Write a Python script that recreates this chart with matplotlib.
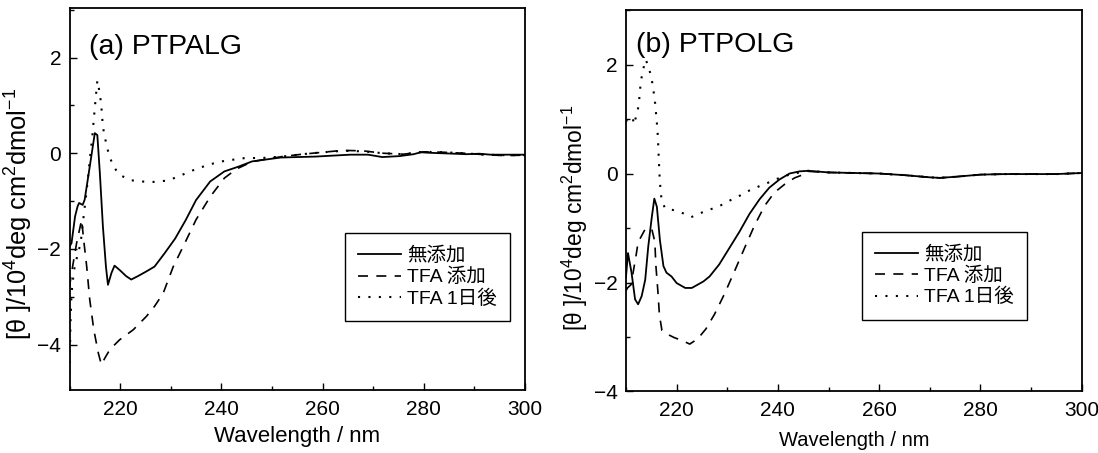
import matplotlib
matplotlib.use("Agg")
import matplotlib.pyplot as plt
from matplotlib.ticker import MultipleLocator

plt.rcParams['font.family'] = ['Liberation Sans', 'Noto Sans CJK JP', 'DejaVu Sans']
plt.rcParams['mathtext.default'] = 'regular'

labels = ["無添加", "TFA 添加", "TFA 1日後"]

# (a) PTPALG
a_solid_x = [210.0, 210.4, 211.1, 211.6, 211.9, 212.6, 213.0, 214.0, 215.0, 215.5, 216.0, 216.6,
             217.2, 217.6, 218.3, 218.9, 219.9, 221.2, 222.2, 223.5, 225.2, 226.8, 228.8, 230.9,
             233.0, 235.0, 237.8, 240.6, 243.4, 246.1, 248.9, 251.7, 255.0, 258.6, 262.0, 265.5,
             269.0, 271.8, 275.2, 278.0, 279.4, 281.0, 283.5, 286.0, 288.4, 291.0, 293.2, 296.0, 300.0]
a_solid_y = [-1.95, -1.88, -1.32, -1.11, -1.04, -1.08, -0.97, -0.28, 0.42, 0.38, -0.42, -1.53,
             -2.37, -2.75, -2.50, -2.35, -2.44, -2.57, -2.64, -2.57, -2.47, -2.37, -2.09, -1.78,
             -1.39, -0.98, -0.59, -0.38, -0.28, -0.17, -0.13, -0.09, -0.08, -0.07, -0.05, -0.03,
             -0.03, -0.08, -0.06, -0.02, 0.02, 0.01, 0.0, -0.01, -0.02, -0.01, -0.03, -0.03, -0.03]

a_dash_x = [210.0, 210.4, 211.4, 212.4, 212.8, 213.4, 214.0, 214.8, 215.7, 216.3, 217.0, 218.0,
            219.9, 222.6, 225.2, 226.8, 228.5, 230.5, 232.6, 235.0, 237.8, 240.6, 243.0, 246.0,
            248.0, 252.0, 256.0, 260.0, 264.0, 268.0, 272.0, 276.0, 280.0, 284.0, 288.0, 292.0,
            296.0, 300.0]
a_dash_y = [-2.8, -2.50, -1.88, -1.39, -1.81, -2.37, -3.06, -3.69, -4.18, -4.42, -4.28, -4.10,
            -3.90, -3.69, -3.41, -3.20, -2.93, -2.37, -1.92, -1.39, -0.91, -0.52, -0.33, -0.18,
            -0.14, -0.07, -0.02, 0.02, 0.06, 0.05, 0.0, -0.02, 0.03, 0.02, 0.0, -0.03,
            -0.05, -0.04]

a_dot_x = [210.0, 210.2, 210.4, 210.9, 211.5, 212.2, 212.7, 213.4, 214.0, 214.5, 214.9, 215.2,
           215.5, 216.0, 216.3, 216.6, 217.1, 217.8, 218.7, 219.9, 221.9, 223.9, 226.5, 229.5,
           232.3, 235.0, 237.8, 240.6, 244.7, 248.0, 252.0, 256.0, 260.0, 264.0, 268.0, 272.0,
           276.0, 280.0, 284.0, 288.0, 292.0, 296.0, 300.0]
a_dot_y = [-4.6, -3.55, -2.92, -2.44, -2.16, -1.88, -1.40, -0.77, -0.14, 0.34, 0.83, 1.18,
           1.52, 1.25, 0.97, 0.55, 0.28, -0.04, -0.28, -0.45, -0.56, -0.59, -0.60, -0.57,
           -0.45, -0.33, -0.23, -0.16, -0.10, -0.10, -0.07, -0.02, 0.02, 0.05, 0.04, 0.0,
           -0.02, 0.03, 0.02, 0.0, -0.03, -0.04, -0.04]

# (b) PTPOLG
b_solid_x = [210.0, 210.4, 211.1, 211.8, 212.4, 213.1, 213.8, 214.4, 215.1, 215.6, 216.1, 216.7,
             217.4, 218.0, 219.0, 220.0, 221.7, 223.0, 225.3, 226.5, 228.4, 230.4, 232.4, 234.4,
             236.4, 238.3, 240.3, 242.3, 244.3, 246.0, 250.0, 255.0, 260.0, 265.0, 270.0, 272.0,
             275.0, 280.0, 285.0, 290.0, 295.0, 300.0]
b_solid_y = [-1.9, -1.46, -1.82, -2.31, -2.40, -2.25, -1.95, -1.34, -0.80, -0.46, -0.61, -1.22,
             -1.70, -1.82, -1.89, -2.01, -2.10, -2.10, -1.98, -1.89, -1.67, -1.37, -1.07, -0.74,
             -0.47, -0.26, -0.11, 0.0, 0.04, 0.05, 0.02, 0.01, 0.0, -0.03, -0.07, -0.08,
             -0.06, -0.02, -0.01, -0.01, -0.01, 0.01]

b_dash_x = [210.0, 210.3, 211.0, 212.0, 212.4, 213.8, 214.5, 215.1, 215.7, 215.9, 216.3, 216.6,
            217.1, 218.2, 219.5, 221.2, 222.6, 224.2, 225.8, 227.5, 229.4, 231.4, 233.4, 235.4,
            237.4, 239.3, 241.3, 243.3, 245.0, 246.0, 250.0, 255.0, 260.0, 265.0, 270.0, 272.0,
            275.0, 280.0, 285.0, 290.0, 295.0, 300.0]
b_dash_y = [-2.15, -2.1, -2.04, -1.5, -1.26, -1.02, -1.0, -1.02, -1.25, -1.68, -2.16, -2.59,
            -2.88, -2.95, -3.01, -3.07, -3.13, -3.03, -2.85, -2.58, -2.22, -1.80, -1.37, -0.95,
            -0.59, -0.35, -0.20, -0.08, -0.02, 0.04, 0.02, 0.01, 0.0, -0.03, -0.07, -0.08,
            -0.06, -0.02, -0.01, -0.01, -0.01, 0.01]

b_dot_x = [210.0, 210.3, 211.3, 211.6, 212.5, 212.7, 212.9, 213.3, 213.9, 214.5, 215.1, 215.4,
           215.7, 215.9, 216.1, 216.3, 216.4, 216.5, 216.6, 216.7, 217.0, 217.7, 219.3, 221.3,
           222.9, 224.6, 226.3, 228.4, 230.4, 232.4, 234.4, 236.4, 238.3, 240.3, 242.3, 244.3,
           246.0, 250.0, 255.0, 260.0, 265.0, 270.0, 272.0, 275.0, 280.0, 285.0, 290.0, 295.0, 300.0]
b_dot_y = [0.95, 1.0, 1.03, 0.9, 1.24, 1.45, 1.66, 1.88, 2.09, 1.95, 1.72, 1.54,
           1.35, 1.14, 0.93, 0.68, 0.44, 0.23, 0.02, -0.16, -0.46, -0.64, -0.67, -0.73,
           -0.80, -0.73, -0.67, -0.60, -0.50, -0.41, -0.31, -0.23, -0.16, -0.08, -0.02, 0.02,
           0.05, 0.02, 0.01, 0.0, -0.03, -0.07, -0.08, -0.06, -0.02, -0.01, -0.01, -0.01, 0.01]

fig = plt.figure(figsize=(10.98, 4.53), dpi=100)
ax_a = fig.add_axes([0.0633, 0.139, 0.4148, 0.8427])
ax_b = fig.add_axes([0.5701, 0.1358, 0.4151, 0.842])

legend_font = ['Liberation Sans', 'Noto Sans CJK JP']

panels = [
    (ax_a, a_solid_x, a_solid_y, a_dash_x, a_dash_y, a_dot_x, a_dot_y,
     "(a) PTPALG", (-4.95, 3.03), (0.043, 0.899), (0.604, 0.411), 18.3, 16, 5, (-0.076, 0.461)),
    (ax_b, b_solid_x, b_solid_y, b_dash_x, b_dash_y, b_dot_x, b_dot_y,
     "(b) PTPOLG", (-4.0, 3.0), (0.021, 0.908), (0.517, 0.418), 16.4, 14.5, 8, (-0.079, 0.455)),
]

for (ax, sx, sy, dx, dy, px, py, title, ylim, tpos, lpos, ylsize, xlsize, xlpad, ylcoords) in panels:
    ax.plot(sx, sy, color='black', lw=1.3, ls='-', label=labels[0])
    ax.plot(dx, dy, color='black', lw=1.2, ls=(0, (6, 5)), label=labels[1])
    ax.plot(px, py, color='black', lw=1.5, ls=(0, (1, 4)), label=labels[2])
    ax.set_xlim(210, 300)
    ax.set_ylim(*ylim)
    ax.xaxis.set_major_locator(MultipleLocator(20))
    ax.xaxis.set_minor_locator(MultipleLocator(10))
    ax.yaxis.set_major_locator(MultipleLocator(2))
    ax.yaxis.set_minor_locator(MultipleLocator(1))
    ax.tick_params(which='both', direction='in', width=1)
    ax.tick_params(which='major', length=5)
    ax.tick_params(which='minor', length=3)
    ax.tick_params(axis='x', pad=7, labelsize=15)
    ax.tick_params(axis='y', pad=6, labelsize=15)
    for sp in ax.spines.values():
        sp.set_linewidth(1.3)
    ax.text(tpos[0], tpos[1], title, transform=ax.transAxes, fontsize=20.5,
            va='center', ha='left')
    ax.set_xlabel("Wavelength / nm", fontsize=xlsize, labelpad=xlpad)
    ax.set_ylabel(r"[θ ]/10$^{4}$deg cm$^{2}$dmol$^{-1}$", fontsize=ylsize)
    ax.yaxis.set_label_coords(*ylcoords)
    leg = ax.legend(loc='upper left', bbox_to_anchor=lpos, borderaxespad=0,
                    prop={'family': legend_font, 'size': 14}, fancybox=False,
                    edgecolor='black', framealpha=1, handlelength=2.2,
                    handletextpad=0.3, borderpad=0.7, labelspacing=0.15)
    leg.get_frame().set_linewidth(1.0)

fig.savefig("out.png", dpi=100)
